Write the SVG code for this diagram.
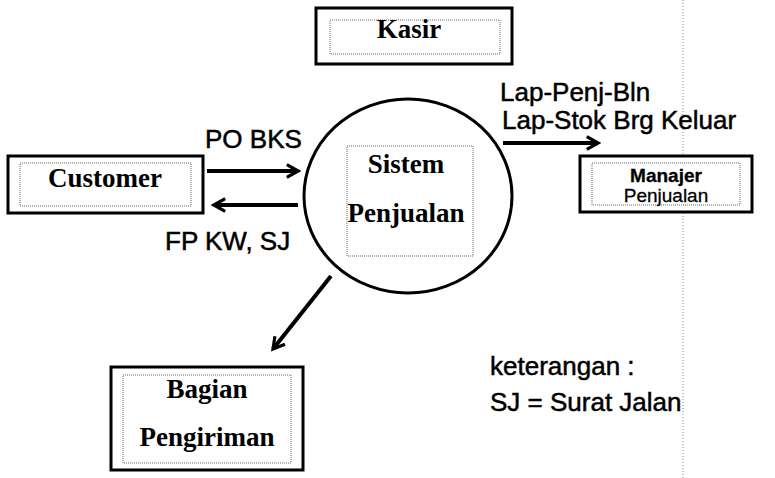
<svg xmlns="http://www.w3.org/2000/svg" width="775" height="478" viewBox="0 0 775 478">
<style>
.box{fill:#fff;stroke:#000;stroke-width:3}
.inner{fill:none;stroke:#666;stroke-width:1;stroke-dasharray:1 1}
.serif{font-family:"Liberation Serif",serif;font-weight:bold;font-size:27px;fill:#000}
.sans{font-family:"Liberation Sans",Arial,sans-serif;font-size:26px;fill:#000;stroke:#000;stroke-width:0.5}
.small{font-size:19px;stroke-width:0.3}
.conn{stroke:#000;stroke-width:4;fill:none;marker-end:url(#ah)}
</style>
<defs>
<marker id="ah" viewBox="0 0 10 10" refX="8" refY="5" markerWidth="4" markerHeight="4.5" orient="auto" markerUnits="strokeWidth">
<path d="M1,1 L8,5 L1,9" fill="none" stroke="#000" stroke-width="2"/>
</marker>
</defs>
<rect width="775" height="478" fill="#fff"/>
<line x1="683" y1="0" x2="683" y2="478" stroke="#888" stroke-dasharray="1 2"/>
<g id="kasir"><rect class="box" x="316" y="8" width="196" height="56"/><rect class="inner" x="330" y="20" width="170" height="34"/><text class="serif" x="409" y="38" text-anchor="middle">Kasir</text></g>
<g id="customer"><rect class="box" x="8" y="156" width="195" height="57"/><rect class="inner" x="20" y="163" width="171" height="43"/><text class="serif" x="105" y="187" text-anchor="middle">Customer</text></g>
<g id="manajer"><rect class="box" x="580" y="156" width="172" height="56"/><rect class="inner" x="592" y="163" width="148" height="42"/><text class="sans small" x="666" y="182" text-anchor="middle" font-weight="bold">Manajer</text><text class="sans small" x="666" y="202" text-anchor="middle">Penjualan</text></g>
<g id="sistem"><ellipse cx="408" cy="196" rx="104" ry="97" fill="#fff" stroke="#000" stroke-width="3"/><rect class="inner" x="347" y="146" width="126" height="110"/><text class="serif" x="406" y="173" text-anchor="middle">Sistem</text><text class="serif" x="406" y="222" text-anchor="middle">Penjualan</text></g>
<g id="bagian"><rect class="box" x="111" y="367" width="192" height="103"/><rect class="inner" x="123" y="375" width="168" height="88"/><text class="serif" x="207" y="398" text-anchor="middle">Bagian</text><text class="serif" x="207" y="446" text-anchor="middle">Pengiriman</text></g>
<g id="connectors">
<line class="conn" x1="207" y1="171" x2="298" y2="171"/>
<line class="conn" x1="298" y1="205" x2="214" y2="205"/>
<line class="conn" x1="503" y1="143" x2="598" y2="143"/>
<line class="conn" x1="331" y1="276" x2="273" y2="349"/>
</g>
<g id="labels">
<text class="sans" x="205" y="148">PO BKS</text>
<text class="sans" x="165" y="250">FP KW, SJ</text>
<text class="sans" x="500" y="101">Lap-Penj-Bln</text>
<text class="sans" x="502" y="129">Lap-Stok Brg Keluar</text>
<text class="sans" x="490" y="375">keterangan :</text>
<text class="sans" x="490" y="411">SJ = Surat Jalan</text>
</g>
</svg>
